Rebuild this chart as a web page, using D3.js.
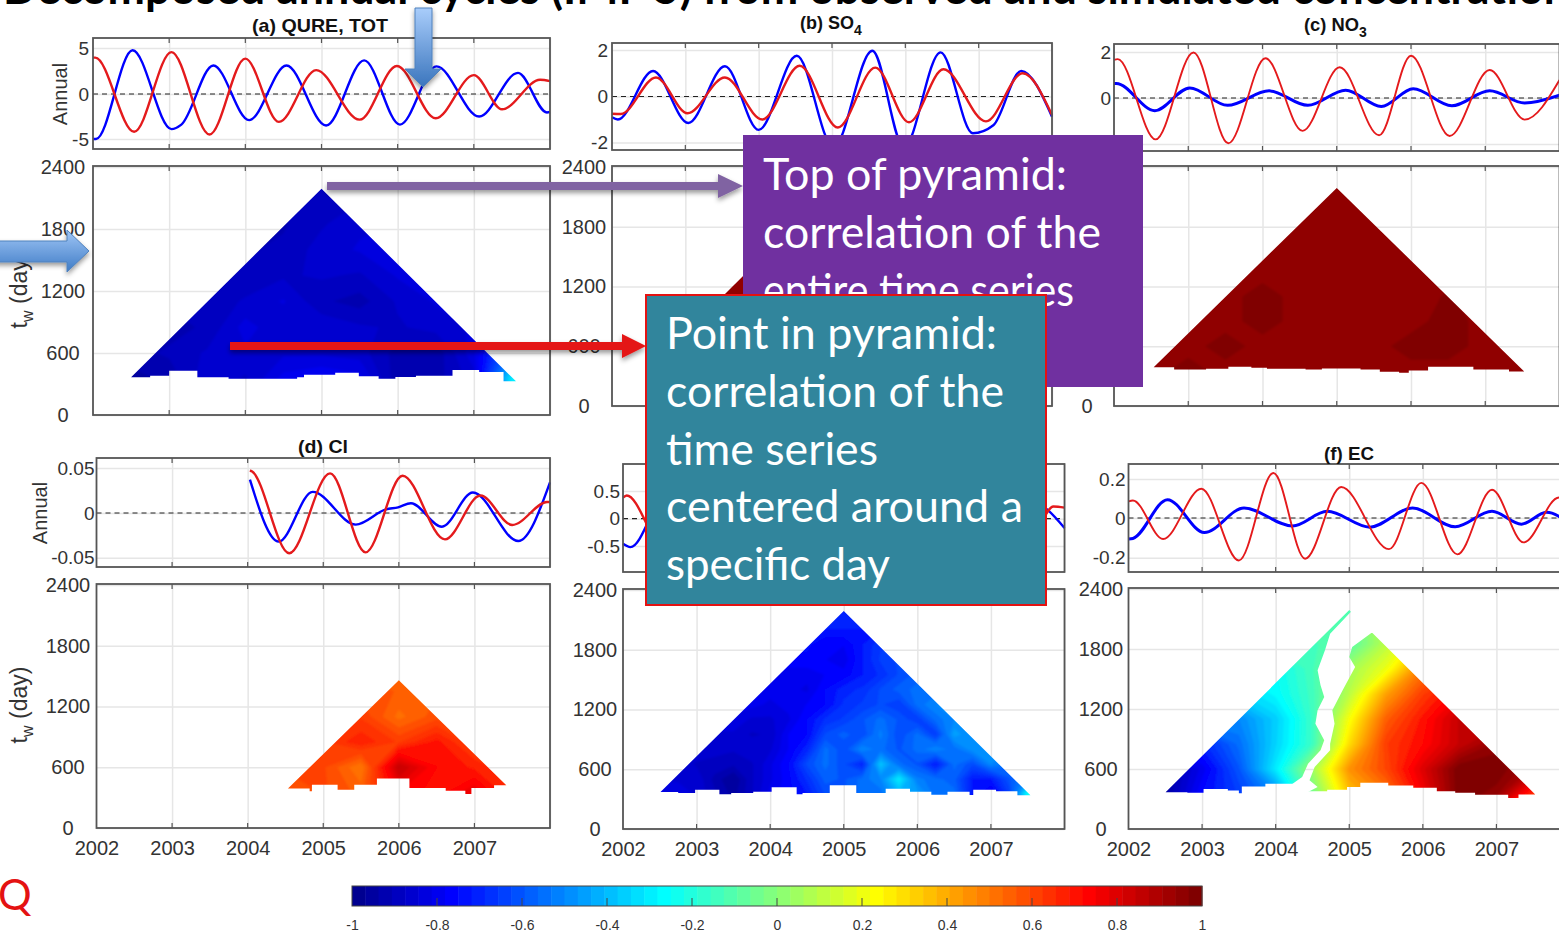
<!DOCTYPE html>
<html>
<head>
<meta charset="utf-8">
<script src="https://cdn.jsdelivr.net/npm/d3@7"></script>
<style>
  html, body { margin: 0; padding: 0; background: #fff; overflow: hidden; }
  svg { display: block; }
  text { font-family: "Liberation Sans", Arial, sans-serif; }
  .slide { font-family: Lato, "Open Sans", sans-serif; }
</style>
</head>
<body>
<div id="chart"></div>
<script>
// annual cycles, [year] and [value] at the turning points
const qureYearsBlue = [2002, 2002.04, 2002.52, 2003.03, 2003.16, 2003.58, 2004.05, 2004.54, 2005.06, 2005.56, 2006.03, 2006.51, 2007.07, 2007.58, 2007.96, 2008]
const qureValsBlue = [-5, -5, 4.75, -3.9, -3.4, 3.1, -2.9, 3.1, -3.5, 3.65, -3.4, 3, -2.5, 2.3, -2.05, -2]
const qureYearsRed = [2002, 2002.03, 2002.54, 2003.03, 2003.53, 2004, 2004.44, 2004.93, 2005.5, 2005.99, 2006.5, 2007, 2007.37, 2007.87, 2008]
const qureValsRed = [3.95, 3.95, -4.2, 4.55, -4.5, 3.85, -3.1, 2.6, -2.85, 3.05, -2.7, 2.05, -1.7, 1.55, 1.4]

const so4YearsBlue = [2002, 2002.08, 2002.56, 2003.04, 2003.54, 2004, 2004.52, 2005.02, 2005.55, 2005.98, 2006.48, 2006.92, 2007.2, 2007.58, 2008]
const so4ValsBlue = [-0.9, -1, 1.1, -1.15, 1.3, -1.45, 1.75, -2.2, 1.97, -2.2, 1.9, -1.6, -1.25, 1.1, -0.88]
const so4YearsRed = [2002, 2002.12, 2002.6, 2003.03, 2003.54, 2004.05, 2004.56, 2005.08, 2005.59, 2006.05, 2006.52, 2007.1, 2007.6, 2008]
const so4ValsRed = [-0.75, -0.76, 0.82, -0.73, 0.82, -1, 1.32, -1.35, 1.24, -1.12, 1.17, -1.08, 1, -0.8]

const no3YearsBlue = [2002, 2002.03, 2002.55, 2003.02, 2003.53, 2004.09, 2004.61, 2005.12, 2005.6, 2006.03, 2006.55, 2007.06, 2007.53, 2008]
const no3ValsBlue = [0.63, 0.63, -0.55, 0.44, -0.32, 0.31, -0.32, 0.34, -0.37, 0.4, -0.34, 0.31, -0.22, 0.12]
const no3YearsRed = [2002, 2002.05, 2002.56, 2003.07, 2003.54, 2004.04, 2004.54, 2005.04, 2005.57, 2006, 2006.52, 2007.06, 2007.53, 2008]
const no3ValsRed = [1.66, 1.69, -1.8, 1.98, -1.97, 1.73, -1.43, 1.34, -1.62, 1.84, -1.65, 1.22, -0.94, 0.78]

const clYearsBlue = [2004.03, 2004.41, 2004.86, 2005.43, 2005.83, 2005.99, 2006.16, 2006.57, 2006.98, 2007.58, 2008]
const clValsBlue = [0.037, -0.032, 0.0235, -0.013, 0.004, 0.0063, 0.0108, -0.0153, 0.0228, -0.0313, 0.034]
const clYearsRed = [2004.03, 2004.06, 2004.55, 2005.09, 2005.56, 2006.05, 2006.61, 2007.08, 2007.5, 2007.96, 2008]
const clValsRed = [0.0474, 0.046, -0.045, 0.044, -0.044, 0.0414, -0.0295, 0.0194, -0.0134, 0.0122, 0.0123]

// (e) is mostly behind the text boxes, hidden turning points are estimates
const panelEYearsBlue = [2002, 2002.1, 2002.6, 2003.1, 2003.6, 2004.1, 2004.6, 2005.1, 2005.6, 2006.1, 2006.6, 2007.1, 2007.55, 2008]
const panelEValsBlue = [-0.46, -0.52, 0.45, -0.45, 0.4, -0.4, 0.4, -0.4, 0.4, -0.35, 0.35, -0.3, 0.3, -0.17]
const panelEYearsRed = [2002, 2002.05, 2002.55, 2003.05, 2003.55, 2004.05, 2004.55, 2005.05, 2005.55, 2006.05, 2006.55, 2007.05, 2007.55, 2007.85, 2008]
const panelEValsRed = [0.38, 0.42, -0.5, 0.45, -0.45, 0.45, -0.45, 0.4, -0.45, 0.4, -0.4, 0.35, -0.3, 0.22, 0.2]

const ecYearsBlue = [2002, 2002.06, 2002.53, 2003.03, 2003.57, 2004.23, 2004.7, 2005.28, 2005.86, 2006.44, 2006.94, 2007.34, 2007.68, 2008]
const ecValsBlue = [-0.106, -0.103, 0.094, -0.073, 0.051, -0.04, 0.034, -0.046, 0.051, -0.044, 0.034, -0.031, 0.029, -0.03]
const ecYearsRed = [2002, 2002.06, 2002.47, 2002.99, 2003.5, 2003.97, 2004.4, 2004.89, 2005.54, 2005.98, 2006.47, 2006.94, 2007.37, 2007.85, 2008]
const ecValsRed = [0.085, 0.09, -0.106, 0.15, -0.214, 0.231, -0.205, 0.159, -0.157, 0.18, -0.183, 0.145, -0.123, 0.105, 0.05]

const heatYears = [2002.5, 2003, 2003.5, 2004, 2004.5, 2005, 2005.5, 2006, 2006.5, 2007, 2007.5]
const heatTw = [350, 600, 850, 1100, 1350, 1600, 1850, 2100]

const qureHeat = [
  [-0.95, -0.93, -0.85, -0.88, -0.8, -0.78, -0.8, -0.93, -0.92, -0.86, -0.3],
  [-0.92, -0.9, -0.87, -0.85, -0.85, -0.85, -0.86, -0.92, -0.93, -0.82, -0.55],
  [-0.92, -0.92, -0.9, -0.83, -0.87, -0.85, -0.87, -0.88, -0.86, -0.84, -0.8],
  [-0.9, -0.9, -0.9, -0.87, -0.84, -0.9, -0.92, -0.87, -0.84, -0.84, -0.84],
  [-0.92, -0.92, -0.92, -0.9, -0.88, -0.87, -0.88, -0.84, -0.84, -0.84, -0.84],
  [-0.92, -0.92, -0.92, -0.91, -0.9, -0.86, -0.84, -0.84, -0.84, -0.84, -0.84],
  [-0.92, -0.92, -0.92, -0.92, -0.91, -0.88, -0.85, -0.84, -0.84, -0.84, -0.84],
  [-0.92, -0.92, -0.92, -0.92, -0.9, -0.89, -0.88, -0.84, -0.84, -0.84, -0.84]
]

const so4HeatYears = [2002.5, 2007.5]
const so4HeatTw = [350, 2100]
const so4Heat = [[0.955, 0.955], [0.955, 0.955]]

const no3Heat = [
  [0.955, 0.985, 0.955, 0.955, 0.955, 0.955, 0.955, 0.955, 0.955, 0.955, 0.955],
  [0.955, 0.955, 0.985, 0.955, 0.955, 0.955, 0.955, 0.985, 0.985, 0.955, 0.955],
  [0.955, 0.955, 0.955, 0.985, 0.955, 0.955, 0.955, 0.955, 0.985, 0.955, 0.955],
  [0.955, 0.955, 0.955, 0.985, 0.955, 0.955, 0.955, 0.955, 0.972, 0.955, 0.955],
  [0.955, 0.955, 0.955, 0.955, 0.955, 0.955, 0.955, 0.955, 0.955, 0.955, 0.955],
  [0.955, 0.955, 0.955, 0.955, 0.955, 0.955, 0.955, 0.955, 0.955, 0.955, 0.955],
  [0.955, 0.955, 0.955, 0.955, 0.955, 0.955, 0.955, 0.955, 0.955, 0.955, 0.955],
  [0.955, 0.955, 0.955, 0.955, 0.955, 0.955, 0.955, 0.955, 0.955, 0.955, 0.955]
]

const clHeatYears = [2004.5, 2005, 2005.5, 2006, 2006.5, 2007, 2007.5]
const clHeatTw = [350, 600, 850, 1100, 1350]
const clHeat = [
  [0.55, 0.6, 0.55, 0.75, 0.7, 0.78, 0.65],
  [0.6, 0.6, 0.5, 0.85, 0.72, 0.68, 0.62],
  [0.6, 0.62, 0.68, 0.62, 0.7, 0.6, 0.6],
  [0.6, 0.6, 0.62, 0.52, 0.58, 0.58, 0.58],
  [0.58, 0.58, 0.58, 0.56, 0.56, 0.56, 0.56]
]

// (e) has a mottled lower right, so it gets a finer grid
const panelEHeatYears = [2002.5, 2002.75, 2003, 2003.25, 2003.5, 2003.75, 2004, 2004.25, 2004.5, 2004.75, 2005, 2005.25, 2005.5, 2005.75, 2006, 2006.25, 2006.5, 2006.75, 2007, 2007.25, 2007.5]
const panelEHeatTw = [350, 500, 650, 800, 950, 1100, 1250, 1400, 1550, 1700, 1850, 2000, 2150]
const panelEHeat = [
  [-0.8, -0.82, -0.85, -0.9, -0.95, -0.88, -0.8, -0.76, -0.72, -0.62, -0.6, -0.55, -0.55, -0.42, -0.45, -0.55, -0.55, -0.72, -0.8, -0.65, -0.25],
  [-0.85, -0.85, -0.85, -0.92, -0.97, -0.88, -0.82, -0.76, -0.68, -0.58, -0.6, -0.55, -0.5, -0.3, -0.52, -0.55, -0.58, -0.72, -0.72, -0.6, -0.5],
  [-0.85, -0.85, -0.88, -0.88, -0.9, -0.88, -0.82, -0.75, -0.62, -0.55, -0.62, -0.7, -0.38, -0.55, -0.6, -0.72, -0.55, -0.62, -0.5, -0.55, -0.5],
  [-0.85, -0.85, -0.85, -0.87, -0.87, -0.85, -0.85, -0.78, -0.7, -0.55, -0.62, -0.5, -0.55, -0.6, -0.55, -0.5, -0.55, -0.48, -0.5, -0.5, -0.5],
  [-0.85, -0.85, -0.85, -0.85, -0.85, -0.88, -0.87, -0.78, -0.75, -0.62, -0.58, -0.62, -0.52, -0.62, -0.55, -0.65, -0.45, -0.5, -0.5, -0.5, -0.5],
  [-0.82, -0.82, -0.82, -0.82, -0.82, -0.85, -0.85, -0.82, -0.75, -0.68, -0.65, -0.6, -0.55, -0.6, -0.65, -0.55, -0.5, -0.5, -0.5, -0.5, -0.5],
  [-0.8, -0.8, -0.8, -0.8, -0.8, -0.8, -0.82, -0.8, -0.78, -0.75, -0.68, -0.65, -0.62, -0.65, -0.55, -0.5, -0.5, -0.5, -0.5, -0.5, -0.5],
  [-0.8, -0.8, -0.8, -0.8, -0.8, -0.8, -0.8, -0.8, -0.82, -0.75, -0.7, -0.68, -0.62, -0.58, -0.55, -0.55, -0.55, -0.55, -0.55, -0.55, -0.55],
  [-0.8, -0.8, -0.8, -0.8, -0.8, -0.8, -0.8, -0.8, -0.8, -0.78, -0.77, -0.72, -0.68, -0.62, -0.58, -0.58, -0.58, -0.58, -0.58, -0.58, -0.58],
  [-0.76, -0.76, -0.76, -0.76, -0.76, -0.76, -0.76, -0.76, -0.76, -0.78, -0.8, -0.72, -0.65, -0.62, -0.62, -0.62, -0.62, -0.62, -0.62, -0.62, -0.62],
  [-0.74, -0.74, -0.74, -0.74, -0.74, -0.74, -0.74, -0.74, -0.74, -0.78, -0.78, -0.72, -0.66, -0.66, -0.66, -0.66, -0.66, -0.66, -0.66, -0.66, -0.66],
  [-0.72, -0.72, -0.72, -0.72, -0.72, -0.72, -0.72, -0.72, -0.72, -0.72, -0.72, -0.72, -0.72, -0.72, -0.72, -0.72, -0.72, -0.72, -0.72, -0.72, -0.72],
  [-0.7, -0.7, -0.7, -0.7, -0.7, -0.7, -0.7, -0.7, -0.7, -0.7, -0.7, -0.7, -0.7, -0.7, -0.7, -0.7, -0.7, -0.7, -0.7, -0.7, -0.7]
]

const ecHeat = [
  [-0.95, -0.75, -0.65, -0.5, -0.05, 0.35, 0.5, 0.75, 1, 0.95, 0.65],
  [-0.95, -0.8, -0.6, -0.3, 0.05, 0.45, 0.6, 0.8, 1, 1, 0.9],
  [-0.7, -0.7, -0.55, -0.35, -0.15, 0.3, 0.62, 0.72, 0.85, 0.95, 0.95],
  [-0.5, -0.5, -0.5, -0.36, -0.15, 0.22, 0.55, 0.7, 0.85, 0.85, 0.85],
  [-0.35, -0.35, -0.35, -0.27, -0.14, 0.1, 0.42, 0.62, 0.75, 0.75, 0.75],
  [-0.25, -0.25, -0.25, -0.25, -0.13, 0.05, 0.2, 0.5, 0.6, 0.6, 0.6],
  [-0.13, -0.13, -0.13, -0.13, -0.13, -0.1, 0.1, 0.3, 0.4, 0.4, 0.4],
  [-0.1, -0.1, -0.1, -0.1, -0.1, -0.1, 0.1, 0.2, 0.3, 0.3, 0.3]
]

// stepped lower edge of the pyramids: year where a step ends, and its tw
const qureStepEnds = [2002.75, 2003, 2003.37, 2003.78, 2004.68, 2004.77, 2005.18, 2005.49, 2005.75, 2005.97, 2006.24, 2006.72, 2007.07, 2007.39, 2008]
const qureStepTw = [365, 381, 429, 365, 352, 365, 390, 410, 374, 352, 368, 381, 435, 416, 326]
const so4StepEnds = [2008]
const so4StepTw = [370]
const no3StepEnds = [2002.81, 2003.24, 2003.54, 2003.85, 2004.06, 2004.58, 2004.8, 2005.32, 2005.58, 2005.84, 2005.97, 2006.23, 2006.84, 2007.32, 2008]
const no3StepTw = [390, 367, 373, 393, 383, 373, 367, 377, 367, 343, 333, 357, 393, 367, 347]
const clStepEnds = [2004.82, 2004.85, 2005.19, 2005.41, 2005.71, 2006.14, 2006.62, 2006.88, 2006.96, 2007.26, 2008]
const clStepTw = [389, 362, 428, 379, 428, 488, 395, 369, 336, 395, 422]
const panelEStepEnds = [2002.75, 2002.98, 2003.31, 2003.47, 2003.77, 2004.02, 2004.36, 2004.44, 2004.81, 2005.17, 2005.57, 2005.9, 2006.19, 2006.41, 2006.71, 2006.76, 2007.07, 2007.36, 2008]
const panelEStepTw = [372, 362, 395, 348, 362, 375, 419, 348, 362, 439, 362, 405, 375, 345, 375, 342, 395, 378, 338]
const ecStepEnds = [2002.8, 2003.02, 2003.35, 2003.5, 2003.54, 2003.86, 2004.24, 2004.7, 2004.97, 2005.15, 2005.53, 2005.87, 2006.19, 2006.44, 2006.71, 2007.16, 2007.3, 2008]
const ecStepTw = [368, 362, 399, 385, 358, 426, 452, 378, 392, 419, 462, 436, 412, 378, 362, 342, 311, 345]

// undefined correlations split panel (f), outline of the white gap
const ecGapLeftYears = [2005.02, 2004.74, 2004.67, 2004.57, 2004.61, 2004.66, 2004.57, 2004.54, 2004.66, 2004.61, 2004.44, 2004.36, 2004.23, 2004.21]
const ecGapLeftTw = [2170, 1953, 1787, 1587, 1437, 1320, 1187, 1053, 887, 787, 653, 520, 453, 370]
const ecGapRightYears = [2005.3, 2005.04, 2005, 2005.08, 2004.91, 2004.77, 2004.8, 2004.74, 2004.74, 2004.53, 2004.46, 2004.57, 2004.44]
const ecGapRightTw = [1960, 1820, 1720, 1620, 1387, 1187, 1053, 853, 787, 620, 487, 420, 370]

const xTickYears = [2002, 2003, 2004, 2005, 2006, 2007]
const twTicks = [0, 600, 1200, 1800, 2400]
const colorbarTicks = [-1, -0.8, -0.6, -0.4, -0.2, 0, 0.2, 0.4, 0.6, 0.8, 1]

const purpleLines = ['Top of pyramid:', 'correlation of the', 'entire time series']
const tealLines = ['Point in pyramid:', 'correlation of the', 'time series', 'centered around a', 'specific day']

const panels = [
  { id: 'a', left: 93, right: 550, topBox: [38, 149], annualTicks: [-5, 0, 5], annualPx: [139, 94, 48], heatBox: [166, 415],
    blue: [qureYearsBlue, qureValsBlue], red: [qureYearsRed, qureValsRed], blueWidth: 2.4, redWidth: 2.4,
    heat: qureHeat, steps: [qureStepEnds, qureStepTw], span: [2002, 2008], twLabelX: 63, labelPad: 4 },
  { id: 'b', left: 612, right: 1052, topBox: [43, 150], annualTicks: [-2, 0, 2], annualPx: [142.5, 96.5, 50], heatBox: [166, 406],
    blue: [so4YearsBlue, so4ValsBlue], red: [so4YearsRed, so4ValsRed], blueWidth: 2.4, redWidth: 2.4,
    heat: so4Heat, heatYears: so4HeatYears, heatTw: so4HeatTw, steps: [so4StepEnds, so4StepTw], span: [2002, 2008], twLabelX: 584, labelPad: 4 },
  { id: 'c', left: 1114, right: 1559.5, topBox: [44, 151], annualTicks: [-2, 0, 2], annualPx: [144, 98, 52], heatBox: [166, 406],
    blue: [no3YearsBlue, no3ValsBlue], red: [no3YearsRed, no3ValsRed], blueWidth: 3, redWidth: 1.9,
    heat: no3Heat, steps: [no3StepEnds, no3StepTw], span: [2002, 2008], twLabelX: 1087, labelPad: 3 },
  { id: 'd', left: 96.5, right: 550, topBox: [458, 567], annualTicks: [-0.05, 0, 0.05], annualPx: [557.7, 513, 468], heatBox: [584, 828],
    blue: [clYearsBlue, clValsBlue], red: [clYearsRed, clValsRed], blueWidth: 2.4, redWidth: 2.4,
    heat: clHeat, heatYears: clHeatYears, heatTw: clHeatTw, steps: [clStepEnds, clStepTw], span: [2004, 2008], twLabelX: 68, xLabels: true, labelPad: 2 },
  { id: 'e', left: 623, right: 1064.5, topBox: [464, 572], annualTicks: [-0.5, 0, 0.5], annualPx: [546, 518.7, 491], heatBox: [589, 829],
    blue: [panelEYearsBlue, panelEValsBlue], red: [panelEYearsRed, panelEValsRed], blueWidth: 2.4, redWidth: 2.4,
    heat: panelEHeat, heatYears: panelEHeatYears, heatTw: panelEHeatTw, steps: [panelEStepEnds, panelEStepTw], span: [2002, 2008], twLabelX: 595, xLabels: true, labelPad: 3 },
  { id: 'f', left: 1128.5, right: 1570, topBox: [464, 572], annualTicks: [-0.2, 0, 0.2], annualPx: [557.7, 518, 479], heatBox: [588, 829],
    blue: [ecYearsBlue, ecValsBlue], red: [ecYearsRed, ecValsRed], blueWidth: 3, redWidth: 1.9,
    heat: ecHeat, steps: [ecStepEnds, ecStepTw], span: [2002, 2008], twLabelX: 1101, xLabels: true, labelPad: 3,
    gap: { leftYears: ecGapLeftYears, leftTw: ecGapLeftTw, rightYears: ecGapRightYears, rightTw: ecGapRightTw } }
]

const width = 1559
const height = 933
const svg = d3.select('#chart').append('svg').attr('width', width).attr('height', height)
const defs = svg.append('defs')

// matlab jet(64): contour levels and their band colours
const jetRamp = d3.scaleLinear().domain([1, 8, 24, 40, 56, 64])
  .range(['#000090', '#0000ff', '#00ffff', '#ffff00', '#ff0000', '#800000'])
const levels = d3.range(64).map((i) => -1 + i / 32)
const levelColor = (t) => jetRamp(Math.round((t + 1) * 32) + 1)

const tickColor = '#333'
const boxColor = '#555'
const gridColor = '#e6e6e6'

// softens the facets of the contour bands
defs.append('filter').attr('id', 'soften').attr('x', '-5%').attr('y', '-5%').attr('width', '110%').attr('height', '110%')
  .append('feGaussianBlur').attr('stdDeviation', 1.3)

function drawBox(g, x, y, box, format, labelX, fontSize, pad) {
  const [top, bottom] = box
  const boxH = bottom - top
  const boxW = x.range()[1] - x.range()[0]

  // grid lines
  g.append('g').attr('transform', `translate(0,${bottom})`)
    .call(d3.axisBottom(x).tickValues(xTickYears.slice(1).concat(2008)).tickSize(-boxH).tickFormat(''))
    .call((s) => s.select('.domain').remove())
    .selectAll('line').attr('stroke', gridColor).attr('stroke-width', 1.5)
  g.append('g').attr('transform', `translate(${x.range()[0]},0)`)
    .call(d3.axisLeft(y.scale).tickValues(y.ticks).tickSize(-boxW).tickFormat(''))
    .call((s) => s.select('.domain').remove())
    .selectAll('line').attr('stroke', gridColor).attr('stroke-width', 1.5)

  const labels = g.append('g').attr('transform', `translate(${x.range()[0]},0)`)
    .call(d3.axisLeft(y.scale).tickValues(y.ticks).tickSize(0).tickPadding(pad).tickFormat(format))
    .call((s) => s.select('.domain').remove())
  labels.selectAll('text').attr('fill', tickColor).style('font-size', fontSize + 'px')
  if (labelX !== undefined) {
    labels.selectAll('text').attr('text-anchor', 'middle').attr('x', labelX - x.range()[0])
  }
}

function drawFrame(g, x, y, box) {
  const [top, bottom] = box
  const [left, right] = x.range()
  const xt = xTickYears.slice(1)
  const tickLines = g.append('g').attr('stroke', boxColor).attr('stroke-width', 1.2)
  tickLines.selectAll('.xb').data(xt).join('line').attr('class', 'xb')
    .attr('x1', (d) => x(d)).attr('x2', (d) => x(d)).attr('y1', bottom).attr('y2', bottom - 5)
  tickLines.selectAll('.xt').data(xt).join('line').attr('class', 'xt')
    .attr('x1', (d) => x(d)).attr('x2', (d) => x(d)).attr('y1', top).attr('y2', top + 5)
  g.append('rect').attr('x', left).attr('y', top).attr('width', right - left).attr('height', bottom - top)
    .attr('fill', 'none').attr('stroke', boxColor).attr('stroke-width', 1.8)
}

function drawAnnual(g, p, x) {
  const y = d3.scaleLinear().domain(p.annualTicks).range(p.annualPx)
  drawBox(g, x, { scale: y, ticks: p.annualTicks }, p.topBox, (d) => String(d), undefined, 19, p.labelPad)

  g.append('line').attr('x1', x.range()[0]).attr('x2', x.range()[1]).attr('y1', y(0)).attr('y2', y(0))
    .attr('stroke', '#222').attr('stroke-width', 1.2).attr('stroke-dasharray', '5 4')

  const line = d3.line().x((d) => x(d[0])).y((d) => y(d[1])).curve(d3.curveMonotoneX)
  const series = [
    { pts: d3.zip(p.blue[0], p.blue[1]), color: '#0000ff', w: p.blueWidth },
    { pts: d3.zip(p.red[0], p.red[1]), color: '#e41a1c', w: p.redWidth }
  ]
  g.selectAll('.cycle').data(series).join('path').attr('class', 'cycle')
    .attr('d', (d) => line(d.pts)).attr('fill', 'none')
    .attr('stroke', (d) => d.color).attr('stroke-width', (d) => d.w)
  drawFrame(g, x, { scale: y }, p.topBox)
}

function pyramidPoints(p) {
  const [start, end] = p.span
  const [ends, tws] = p.steps
  const pts = [[(start + end) / 2, (end - start) * 365]]
  pts.push([start + tws[0] / 730, tws[0]])
  tws.forEach((tw, i) => {
    if (i > 0) pts.push([ends[i - 1], tw])
    if (i < tws.length - 1) pts.push([ends[i], tw])
  })
  pts.push([end - tws[tws.length - 1] / 730, tws[tws.length - 1]])
  return pts
}

function drawHeat(g, p, x) {
  const y = d3.scaleLinear().domain([0, 2400]).range([p.heatBox[1], p.heatBox[0] + 1])
  drawBox(g, x, { scale: y, ticks: twTicks }, p.heatBox, d3.format('d'), p.twLabelX, 20, 4)

  const toPath = d3.line().x((d) => x(d[0])).y((d) => y(d[1]))
  defs.append('clipPath').attr('id', 'pyr-' + p.id).append('path').attr('d', toPath(pyramidPoints(p)) + 'Z')

  const years = p.heatYears || heatYears
  const tws = p.heatTw || heatTw
  const dx = years[1] - years[0]
  const dy = tws[1] - tws[0]
  const geo = d3.geoPath(d3.geoTransform({
    point(gx, gy) {
      this.stream.point(x(years[0] + (gx - 0.5) * dx), y(tws[0] + (gy - 0.5) * dy))
    }
  }))
  const bands = d3.contours().size([years.length, tws.length]).thresholds(levels)(p.heat.flat())

  let holder = g.append('g').attr('clip-path', `url(#pyr-${p.id})`)
  if (p.gap) {
    const { leftYears, leftTw, rightYears, rightTw } = p.gap
    const lp = d3.zip(leftYears, leftTw)
    const rp = d3.zip(rightYears, rightTw)
    const sideL = lp.concat([[leftYears[leftYears.length - 1], 0], [2002, 0], [2002, 2400], [leftYears[0], 2400]])
    const sideR = rp.concat([[rightYears[rightYears.length - 1], 0], [2008, 0], [2008, rightTw[0]]])
    defs.append('clipPath').attr('id', 'gap-' + p.id).append('path')
      .attr('d', toPath(sideL) + 'Z' + toPath(sideR) + 'Z')
    holder = holder.append('g').attr('clip-path', `url(#gap-${p.id})`)
  }
  holder.append('g').attr('filter', 'url(#soften)')
    .selectAll('path').data(bands.filter((b) => b.coordinates.length)).join('path')
    .attr('d', geo).attr('fill', (d) => levelColor(d.value))

  drawFrame(g, x, { scale: y }, p.heatBox)

  if (p.xLabels) {
    const axis = g.append('g').attr('transform', `translate(0,${p.heatBox[1]})`)
      .call(d3.axisBottom(x).tickValues(xTickYears).tickSize(0).tickPadding(13).tickFormat(d3.format('d')))
      .call((s) => s.select('.domain').remove())
    axis.selectAll('text').attr('fill', tickColor).style('font-size', '20px')
  }
}

panels.forEach((p) => {
  const x = d3.scaleLinear().domain([2002, 2008]).range([p.left, p.right])
  const g = svg.append('g').attr('class', 'panel-' + p.id)
  drawAnnual(g, p, x)
  drawHeat(g, p, x)
})

// panel titles
function panelTitle(x, y, label, sub, len) {
  const t = svg.append('text').attr('x', x).attr('y', y).attr('font-weight', 'bold')
    .style('font-size', '19px').attr('fill', '#111')
  const s = t.append('tspan').text(label)
  if (len) s.attr('textLength', len).attr('lengthAdjust', 'spacingAndGlyphs')
  if (sub) t.append('tspan').attr('dy', 6).style('font-size', '14px').text(sub)
}
panelTitle(252, 32, '(a) QURE, TOT', null, 136)
panelTitle(800, 29, '(b) SO', '4', 54)
panelTitle(1304, 31, '(c) NO', '3', 55)
panelTitle(298, 453, '(d) Cl', null, 50)
panelTitle(1324, 460, '(f) EC', null, 50)

// axis names
function annualLabel(x, y) {
  svg.append('text').attr('transform', `translate(${x},${y}) rotate(-90)`).attr('text-anchor', 'middle')
    .attr('fill', tickColor).style('font-size', '20px').text('Annual')
}
function twLabel(x, y) {
  const t = svg.append('text').attr('transform', `translate(${x},${y}) rotate(-90)`).attr('text-anchor', 'middle')
    .attr('fill', tickColor).style('font-size', '23px')
  t.append('tspan').text('t')
  t.append('tspan').attr('dy', 6).style('font-size', '16px').text('w')
  t.append('tspan').attr('dy', -6).text(' (day)')
}
annualLabel(67, 94)
annualLabel(47, 513)
twLabel(27, 290)
twLabel(27, 705)

// colour bar
const barX = d3.scaleLinear().domain([-1, 1]).range([352, 1202])
const barTop = 886
const barH = 20
svg.append('g').selectAll('rect').data(levels).join('rect')
  .attr('x', (d) => barX(d)).attr('y', barTop)
  .attr('width', (d) => barX(d + 1 / 32) - barX(d) + 0.5).attr('height', barH)
  .attr('fill', (d) => levelColor(d))
svg.append('rect').attr('x', 352).attr('y', barTop).attr('width', 850).attr('height', barH)
  .attr('fill', 'none').attr('stroke', '#444').attr('stroke-width', 1)
const barAxis = svg.append('g').attr('transform', `translate(0,${barTop + barH})`)
  .call(d3.axisBottom(barX).tickValues(colorbarTicks).tickSize(0).tickPadding(14).tickFormat((d) => String(d)))
  .call((s) => s.select('.domain').remove())
barAxis.selectAll('text').attr('fill', '#333').style('font-size', '14px')
barAxis.selectAll('.inner').data(colorbarTicks.slice(1, -1)).join('line').attr('class', 'inner')
  .attr('x1', (d) => barX(d)).attr('x2', (d) => barX(d)).attr('y1', 0).attr('y2', -8)
  .attr('stroke', '#444').attr('stroke-width', 1)

// slide overlays
svg.append('text').attr('class', 'slide').attr('x', 3).attr('y', 4)
  .attr('font-weight', 'bold').attr('fill', '#000').style('font-size', '45px')
  .attr('textLength', 1566).attr('lengthAdjust', 'spacingAndGlyphs')
  .text('Decomposed annual cycles (IMF 5) from observed and simulated concentration')

svg.append('text').attr('class', 'slide').attr('x', -2).attr('y', 910)
  .attr('fill', '#e41212').style('font-size', '42px').text('Q')

const shadow = defs.append('filter').attr('id', 'shadow')
  .attr('x', '-10%').attr('y', '-60%').attr('width', '120%').attr('height', '260%')
shadow.append('feDropShadow').attr('dx', 0).attr('dy', 3).attr('stdDeviation', 2.5)
  .attr('flood-color', '#000').attr('flood-opacity', 0.4)

const blueDown = defs.append('linearGradient').attr('id', 'blue-down').attr('x1', 0).attr('y1', 0).attr('x2', 0).attr('y2', 1)
blueDown.append('stop').attr('offset', '0%').attr('stop-color', '#a9cdfb')
blueDown.append('stop').attr('offset', '100%').attr('stop-color', '#3a75bd')
const blueSide = defs.append('linearGradient').attr('id', 'blue-side').attr('x1', 0).attr('y1', 0).attr('x2', 0).attr('y2', 1)
blueSide.append('stop').attr('offset', '0%').attr('stop-color', '#a0c6f6')
blueSide.append('stop').attr('offset', '100%').attr('stop-color', '#3f7cc6')

const arrowLine = d3.line()
svg.append('path')
  .attr('d', arrowLine([[415, 8], [432, 8], [432, 69], [441, 69], [423, 87], [405, 69], [415, 69]]) + 'Z')
  .attr('fill', 'url(#blue-down)').attr('stroke', '#4f81bd').attr('stroke-width', 1).attr('filter', 'url(#shadow)')
svg.append('path')
  .attr('d', arrowLine([[-10, 241], [67, 241], [67, 230], [89, 251], [67, 272], [67, 262], [-10, 262]]) + 'Z')
  .attr('fill', 'url(#blue-side)').attr('stroke', '#4f81bd').attr('stroke-width', 1).attr('filter', 'url(#shadow)')

svg.append('path')
  .attr('d', arrowLine([[327, 182], [718, 182], [718, 174], [743, 186], [718, 198], [718, 190], [327, 190]]) + 'Z')
  .attr('fill', '#8064a2').attr('filter', 'url(#shadow)')

svg.append('rect').attr('x', 743).attr('y', 135).attr('width', 400).attr('height', 252).attr('fill', '#7030a0')
svg.append('g').selectAll('text').data(purpleLines).join('text').attr('class', 'slide')
  .attr('x', 763).attr('y', (d, i) => 190 + i * 58).attr('fill', '#fff').style('font-size', '44px')
  .attr('textLength', (d, i) => [304, 338, 311][i]).attr('lengthAdjust', 'spacingAndGlyphs').text((d) => d)

svg.append('path')
  .attr('d', arrowLine([[230, 342], [622, 342], [622, 334], [646, 346], [622, 358], [622, 350], [230, 350]]) + 'Z')
  .attr('fill', '#e41212').attr('filter', 'url(#shadow)')

svg.append('rect').attr('x', 646).attr('y', 295).attr('width', 400).attr('height', 310)
  .attr('fill', '#31859c').attr('stroke', '#e41212').attr('stroke-width', 2)
svg.append('g').selectAll('text').data(tealLines).join('text').attr('class', 'slide')
  .attr('x', 666).attr('y', (d, i) => 349 + i * 57.8).attr('fill', '#fff').style('font-size', '44px')
  .attr('textLength', (d, i) => [331, 338, 212, 357, 224][i]).attr('lengthAdjust', 'spacingAndGlyphs').text((d) => d)
</script>
</body>
</html>
